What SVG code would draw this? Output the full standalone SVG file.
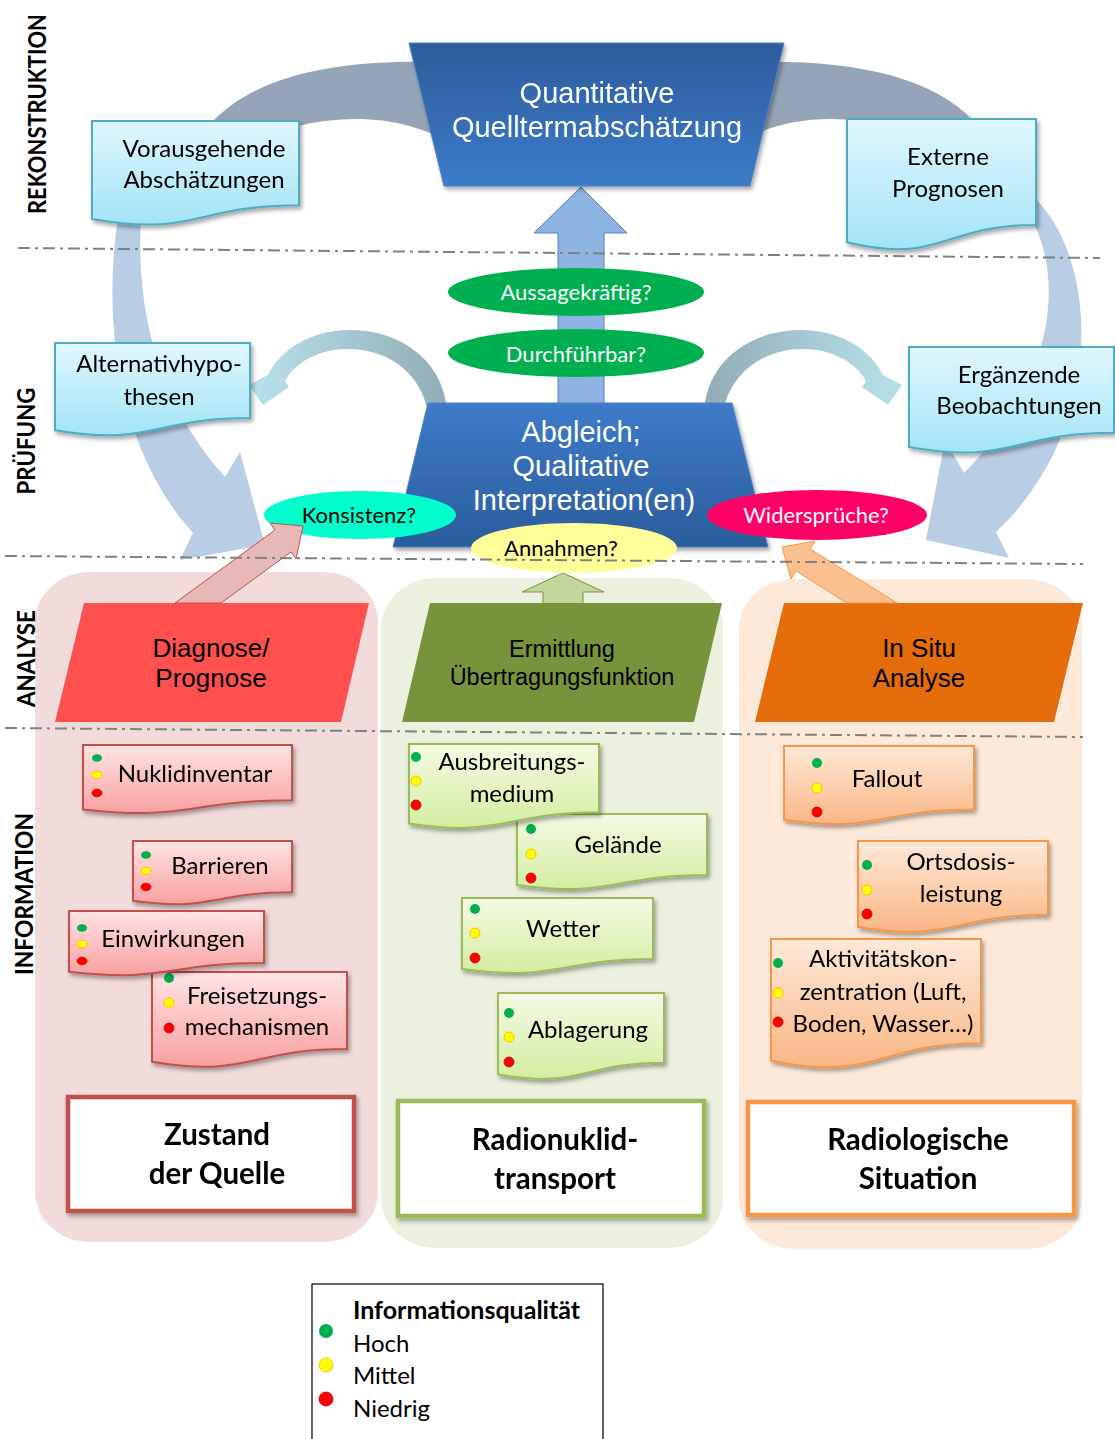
<svg xmlns="http://www.w3.org/2000/svg" width="1115" height="1439" viewBox="0 0 1115 1439">
<defs>
<style>
.cal{font-family:Lato,'Noto Sans','Liberation Sans',sans-serif}
.ar{font-family:'Liberation Sans',Arial,sans-serif}
.nt{font-size:24px;fill:#000;text-anchor:middle}
.el{font-size:22px;text-anchor:middle}
.vl{font-size:25px;font-weight:bold;text-anchor:middle;fill:#000}
.bl{font-size:29.5px;font-weight:bold;text-anchor:middle;fill:#000}
.dl{fill:none;stroke:#808080;stroke-width:2;stroke-dasharray:12 5 3 5}
.nb{fill:url(#gBlue);stroke:#4BACC6;stroke-width:2}
.np{fill:url(#gPink);stroke:#C0504D;stroke-width:2}
.ng{fill:url(#gGreen);stroke:#9BBB59;stroke-width:2}
.no{fill:url(#gOrange);stroke:#F79646;stroke-width:2}
.dg{fill:#00B050}
.dy{fill:#FFFF00;stroke:#FFC000;stroke-width:1}
.dr{fill:#FF0000;stroke:#C00000;stroke-width:0.8}
.big{fill:#B9CDE5}
.grey{fill:#95A5B7}
</style>
<filter id="sh" x="-10%" y="-10%" width="130%" height="140%"><feDropShadow dx="2" dy="3" stdDeviation="2" flood-color="#000" flood-opacity="0.35"/></filter>
<linearGradient id="gBlue" x1="0" y1="0" x2="0" y2="1"><stop offset="0" stop-color="#E0F7FD"/><stop offset="1" stop-color="#A3E4F7"/></linearGradient>
<linearGradient id="gPink" x1="0" y1="0" x2="0" y2="1"><stop offset="0" stop-color="#FFE4E4"/><stop offset="1" stop-color="#F9A0A0"/></linearGradient>
<linearGradient id="gGreen" x1="0" y1="0" x2="0" y2="1"><stop offset="0" stop-color="#F4FAE4"/><stop offset="1" stop-color="#D4EDA0"/></linearGradient>
<linearGradient id="gOrange" x1="0" y1="0" x2="0" y2="1"><stop offset="0" stop-color="#FEE9D8"/><stop offset="1" stop-color="#FAB685"/></linearGradient>
<linearGradient id="gTop" x1="0" y1="0" x2="0" y2="1"><stop offset="0" stop-color="#2D5C9B"/><stop offset="1" stop-color="#3C7BCA"/></linearGradient>
<linearGradient id="gMid" x1="0" y1="0" x2="0" y2="1"><stop offset="0" stop-color="#3D7BCA"/><stop offset="1" stop-color="#2B5C9B"/></linearGradient>
<linearGradient id="gArcL" gradientUnits="userSpaceOnUse" x1="440" y1="0" x2="262" y2="0"><stop offset="0" stop-color="#93AEB8"/><stop offset="1" stop-color="#B7DEE8"/></linearGradient>
<linearGradient id="gArcR" gradientUnits="userSpaceOnUse" x1="711" y1="0" x2="889" y2="0"><stop offset="0" stop-color="#93AEB8"/><stop offset="1" stop-color="#B7DEE8"/></linearGradient>
</defs>
<rect width="1115" height="1439" fill="#fff"/>

<g id="columns">
<rect x="35" y="572" width="343" height="670" rx="55" ry="50" fill="#F2DCDB"/>
<rect x="381" y="578" width="342" height="670" rx="55" ry="50" fill="#EBF1DE"/>
<rect x="739" y="579" width="343" height="670" rx="55" ry="50" fill="#FDE9D9"/>
</g>

<g id="connectors">
<path class="grey" d="M214,128 L214,120 C255,78 330,60 430,62 L445,140 C410,122 360,110 290,128 Z"/>
<path class="grey" d="M973,128 L973,120 C932,78 857,60 757,62 L742,140 C777,122 827,110 897,128 Z"/>
<path class="big" d="M120,205 C100,320 118,450 193,533 L180,560 L265,545 L240,452 L225,477 C165,410 132,320 142,205 Z"/>
<path class="big" d="M1025,190 C1095,240 1115,420 996,532 L1009,558 L926,540 L945,440 L964,473 C1045,390 1070,290 1030,215 Z"/>
<path fill="url(#gArcL)" d="M447,412 L446,403 C440,360 400,330 350,330 C310,330 280,350 268,375 L249,385 L263,405 L289,387 L285,381 C295,362 320,349 348,349 C385,349 420,370 428,412 Z"/>
<path fill="url(#gArcR)" d="M704,412 L705,403 C711,360 751,330 801,330 C841,330 871,350 883,375 L902,385 L888,405 L862,387 L866,381 C856,362 831,349 803,349 C766,349 731,370 723,412 Z"/>
<polygon points="558,404 558,233 534,233 581,187 627,233 604,233 604,404" fill="#8EB4E3" stroke="#4F81BD" stroke-width="1"/>
<polygon points="543,604 543,592 522,592 563,573 604,592 583,592 583,604" fill="#C3D69B" stroke="#77933C" stroke-width="1"/>
</g>

<g id="top" filter="url(#sh)">
<polygon points="409,43 784,43 750,186 444,186" fill="url(#gTop)" stroke="#4F81BD" stroke-width="1"/>
<text class="ar" x="597" y="103" font-size="29" fill="#fff" text-anchor="middle">Quantitative</text>
<text class="ar" x="597" y="137" font-size="29" fill="#fff" text-anchor="middle">Quelltermabschätzung</text>
</g>

<g id="vorausgehende" filter="url(#sh)">
<path class="nb" d="M92,121 H299 V205.2 C195.5,205.2 195.5,237.2 92,219.1 Z"/>
<text class="cal nt" x="204" y="157">Vorausgehende</text>
<text class="cal nt" x="204" y="188">Abschätzungen</text>
</g>
<g id="externe" filter="url(#sh)">
<path class="nb" d="M847,119 H1036 V224.9 C941.5,224.9 941.5,265.1 847,242.3 Z"/>
<text class="cal nt" x="948" y="165">Externe</text>
<text class="cal nt" x="948" y="197">Prognosen</text>
</g>
<g id="alternativ" filter="url(#sh)">
<path class="nb" d="M55,343 H250 V418 C152.5,418 152.5,446.5 55,430.3 Z"/>
<text class="cal nt" x="159" y="372">Alternativhypo-</text>
<text class="cal nt" x="159" y="405">thesen</text>
</g>
<g id="ergaenzende" filter="url(#sh)">
<path class="nb" d="M909,347 H1114 V432.8 C1011.5,432.8 1011.5,465.4 909,446.9 Z"/>
<text class="cal nt" x="1019" y="383">Ergänzende</text>
<text class="cal nt" x="1019" y="414">Beobachtungen</text>
</g>

<g id="aussage">
<ellipse cx="576" cy="292" rx="128" ry="24" fill="#00B050"/>
<text class="cal el" x="576" y="300" fill="#fff">Aussagekräftig?</text>
</g>
<g id="durchfuehrbar">
<ellipse cx="576" cy="353" rx="128" ry="24" fill="#00B050"/>
<text class="cal el" x="576" y="362" fill="#fff">Durchführbar?</text>
</g>

<g id="abgleich">
<polygon points="428,403 732,403 768,547 393,547" fill="url(#gMid)" stroke="#4F81BD" stroke-width="1" filter="url(#sh)"/>
<text class="ar" x="581" y="442" font-size="29" fill="#fff" text-anchor="middle">Abgleich;</text>
<text class="ar" x="581" y="476" font-size="29" fill="#fff" text-anchor="middle">Qualitative</text>
<text class="ar" x="584" y="510" font-size="29" fill="#fff" text-anchor="middle">Interpretation(en)</text>
</g>

<g id="konsistenz">
<ellipse cx="360" cy="515" rx="96" ry="24" fill="#00FFCC"/>
<text class="cal el" x="359" y="523" fill="#000">Konsistenz?</text>
</g>
<g id="widersprueche">
<ellipse cx="817" cy="515" rx="110" ry="25" fill="#FF0066"/>
<text class="cal el" x="816" y="523" fill="#fff">Widersprüche?</text>
</g>
<g id="annahmen">
<ellipse cx="574" cy="548" rx="103" ry="25" fill="#FFFF99"/>
<text class="cal el" x="561" y="556" fill="#000">Annahmen?</text>
</g>

<g id="diagnose">
<polygon points="84,603 369,603 341,722 55,722" fill="#FF5050"/>
<text class="ar" x="211" y="657" font-size="26" text-anchor="middle">Diagnose/</text>
<text class="ar" x="211" y="687" font-size="26" text-anchor="middle">Prognose</text>
</g>
<g id="ermittlung">
<polygon points="430,603 722,603 694,722 402,722" fill="#77933C"/>
<text class="ar" x="562" y="657" font-size="23.5" text-anchor="middle">Ermittlung</text>
<text class="ar" x="562" y="685" font-size="23.5" text-anchor="middle">Übertragungsfunktion</text>
</g>
<g id="insitu">
<polygon points="784,603 1083,603 1054,722 755,722" fill="#E46C0A"/>
<text class="ar" x="919" y="657" font-size="26" text-anchor="middle">In Situ</text>
<text class="ar" x="919" y="687" font-size="26" text-anchor="middle">Analyse</text>
</g>

<g id="nuklidinventar" filter="url(#sh)">
<path class="np" d="M83,745 H292 V800.3 C187.5,800.3 187.5,821.4 83,809.4 Z"/>
<ellipse class="dg" cx="97" cy="758" rx="5" ry="3.8"/><ellipse class="dy" cx="97" cy="775" rx="5" ry="3.8"/><ellipse class="dr" cx="97" cy="793" rx="5" ry="3.8"/>
<text class="cal nt" x="195" y="782">Nuklidinventar</text>
</g>
<g id="barrieren" filter="url(#sh)">
<path class="np" d="M133,841 H292 V892.3 C212.5,892.3 212.5,911.8 133,900.8 Z"/>
<ellipse class="dg" cx="146" cy="855" rx="5" ry="3.8"/><ellipse class="dy" cx="146" cy="871" rx="5" ry="3.8"/><ellipse class="dr" cx="146" cy="887" rx="5" ry="3.8"/>
<text class="cal nt" x="220" y="874">Barrieren</text>
</g>
<g id="freisetzung" filter="url(#sh)">
<path class="np" d="M152,972 H347 V1049 C249.5,1049 249.5,1078.3 152,1061.7 Z"/>
<ellipse class="dg" cx="169" cy="978" rx="5" ry="5"/><ellipse class="dy" cx="169" cy="1003" rx="5" ry="5"/><ellipse class="dr" cx="169" cy="1028" rx="5" ry="5"/>
<text class="cal nt" x="257" y="1004">Freisetzungs-</text>
<text class="cal nt" x="257" y="1035">mechanismen</text>
</g>
<g id="einwirkungen" filter="url(#sh)">
<path class="np" d="M69,911 H264 V963.1 C166.5,963.1 166.5,983 69,971.7 Z"/>
<ellipse class="dg" cx="82" cy="928" rx="5" ry="3.8"/><ellipse class="dy" cx="82" cy="944" rx="5" ry="3.8"/><ellipse class="dr" cx="82" cy="961" rx="5" ry="3.8"/>
<text class="cal nt" x="173" y="947">Einwirkungen</text>
</g>

<g id="gelaende" filter="url(#sh)">
<path class="ng" d="M517,814 H707 V875 C612,875 612,898.1 517,885 Z"/>
<circle class="dg" cx="531" cy="829" r="5"/><circle class="dy" cx="531" cy="854" r="5"/><circle class="dr" cx="531" cy="878" r="5"/>
<text class="cal nt" x="618" y="853">Gelände</text>
</g>
<g id="ausbreitung" filter="url(#sh)">
<path class="ng" d="M409,744 H599 V812.2 C504,812.2 504,838.1 409,823.4 Z"/>
<circle class="dg" cx="416" cy="757" r="5"/><circle class="dy" cx="416" cy="781" r="5"/><circle class="dr" cx="416" cy="805" r="5"/>
<text class="cal nt" x="512" y="770">Ausbreitungs-</text>
<text class="cal nt" x="512" y="802">medium</text>
</g>
<g id="wetter" filter="url(#sh)">
<path class="ng" d="M462,898 H653 V959 C557.5,959 557.5,982.1 462,969 Z"/>
<circle class="dg" cx="475" cy="909" r="5"/><circle class="dy" cx="475" cy="933" r="5"/><circle class="dr" cx="475" cy="958" r="5"/>
<text class="cal nt" x="563" y="937">Wetter</text>
</g>
<g id="ablagerung" filter="url(#sh)">
<path class="ng" d="M498,993 H664 V1062.8 C581,1062.8 581,1089.3 498,1074.3 Z"/>
<circle class="dg" cx="509" cy="1013" r="5"/><circle class="dy" cx="509" cy="1037" r="5"/><circle class="dr" cx="509" cy="1062" r="5"/>
<text class="cal nt" x="588" y="1038">Ablagerung</text>
</g>

<g id="fallout" filter="url(#sh)">
<path class="no" d="M784,746 H974 V809.4 C879,809.4 879,833.5 784,819.8 Z"/>
<circle class="dg" cx="817" cy="763" r="5"/><circle class="dy" cx="817" cy="788" r="5"/><circle class="dr" cx="817" cy="812" r="5"/>
<text class="cal nt" x="887" y="787">Fallout</text>
</g>
<g id="ortsdosis" filter="url(#sh)">
<path class="no" d="M858,841 H1048 V914.8 C953,914.8 953,942.8 858,926.9 Z"/>
<circle class="dg" cx="867" cy="865" r="5"/><circle class="dy" cx="867" cy="890" r="5"/><circle class="dr" cx="867" cy="914" r="5"/>
<text class="cal nt" x="961" y="870">Ortsdosis-</text>
<text class="cal nt" x="961" y="902">leistung</text>
</g>
<g id="aktivitaet" filter="url(#sh)">
<path class="no" d="M771,939 H981 V1043.3 C876,1043.3 876,1082.9 771,1060.4 Z"/>
<circle class="dg" cx="778" cy="963" r="5"/><circle class="dy" cx="778" cy="993" r="5"/><circle class="dr" cx="778" cy="1022" r="5"/>
<text class="cal nt" x="883" y="967">Aktivitätskon-</text>
<text class="cal nt" x="883" y="1000">zentration (Luft,</text>
<text class="cal nt" x="883" y="1032">Boden, Wasser…)</text>
</g>

<g id="zustand" filter="url(#sh)">
<rect x="68" y="1097" width="286" height="114" fill="#fff" stroke="#C0504D" stroke-width="4.5"/>
<text class="cal bl" x="217" y="1145">Zustand</text>
<text class="cal bl" x="217" y="1184">der Quelle</text>
</g>
<g id="transport" filter="url(#sh)">
<rect x="398" y="1101" width="306" height="115" fill="#fff" stroke="#9BBB59" stroke-width="4.5"/>
<text class="cal bl" x="555" y="1150">Radionuklid-</text>
<text class="cal bl" x="555" y="1189">transport</text>
</g>
<g id="situation" filter="url(#sh)">
<rect x="748" y="1102" width="326" height="113" fill="#fff" stroke="#F79646" stroke-width="4.5"/>
<text class="cal bl" x="918" y="1150">Radiologische</text>
<text class="cal bl" x="918" y="1189">Situation</text>
</g>

<g id="connectors-front">
<polygon points="175,603 275,530 270,523 303,526 296,559 291,552 221,603" fill="#E6B9B8" stroke="#C0504D" stroke-width="1"/>
<polygon points="847,603 796,571 791,579 782,547 815,541 810,549 897,603" fill="#FAC090" stroke="#F79646" stroke-width="1"/>
</g>

<g id="dashlines">
<line class="dl" x1="18" y1="248" x2="1100" y2="258"/>
<line class="dl" x1="5" y1="556" x2="1083" y2="564"/>
<line class="dl" x1="5" y1="728" x2="1083" y2="737"/>
</g>

<g id="labels">
<text class="cal vl" transform="translate(46,114) rotate(-90)" textLength="200" lengthAdjust="spacingAndGlyphs">REKONSTRUKTION</text>
<text class="cal vl" transform="translate(35,441) rotate(-90)" textLength="107" lengthAdjust="spacingAndGlyphs">PRÜFUNG</text>
<text class="cal vl" transform="translate(35,658.5) rotate(-90)" textLength="97" lengthAdjust="spacingAndGlyphs">ANALYSE</text>
<text class="cal vl" transform="translate(33,894) rotate(-90)" textLength="162" lengthAdjust="spacingAndGlyphs">INFORMATION</text>
</g>

<g id="legend">
<rect x="312" y="1284" width="291" height="180" fill="#fff" stroke="#000" stroke-width="1.2"/>
<circle class="dg" cx="326" cy="1331" r="7"/>
<circle class="dy" cx="326" cy="1365" r="7"/>
<circle class="dr" cx="326" cy="1399" r="7"/>
<text class="cal" x="353" y="1319" font-size="25" font-weight="bold">Informationsqualität</text>
<text class="cal" x="353" y="1352" font-size="24">Hoch</text>
<text class="cal" x="353" y="1384" font-size="24">Mittel</text>
<text class="cal" x="353" y="1417" font-size="24">Niedrig</text>
</g>
</svg>
